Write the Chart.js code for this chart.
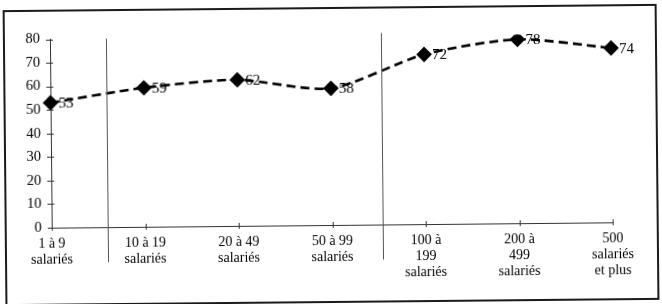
<!DOCTYPE html>
<html>
<head>
<meta charset="utf-8">
<script src="https://cdn.jsdelivr.net/npm/chart.js@4/dist/chart.umd.min.js"></script>
<style>
  html, body { margin: 0; padding: 0; background: #fff; overflow: hidden; }
  #wrap { width: 662px; height: 304px; transform: rotate(-0.55deg); transform-origin: 331px 152px; }
</style>
</head>
<body>
<div id="wrap"><canvas id="chart" width="662" height="304"></canvas></div>
<script>
// Effectifs par tranche de taille d'entreprise
const categories = [
  ['1 à 9', 'salariés'],
  ['10 à 19', 'salariés'],
  ['20 à 49', 'salariés'],
  ['50 à 99', 'salariés'],
  ['100 à', '199', 'salariés'],
  ['200 à', '499', 'salariés'],
  ['500', 'salariés', 'et plus']
];
const values = [53, 59, 62, 58, 72, 78, 74];
const yTicks = [0, 10, 20, 30, 40, 50, 60, 70, 80];

const serif = '"Liberation Serif", "DejaVu Serif", serif';
const ink = '#000';

// Frame, small crossing ticks, the two separator lines and value labels
const decorPlugin = {
  id: 'decor',
  afterDraw(chart) {
    const { ctx, chartArea } = chart;
    const xs = chart.scales.x;
    const ys = chart.scales.y;
    ctx.save();
    ctx.setLineDash([]);
    ctx.globalAlpha = 1;

    // outer frame
    ctx.strokeStyle = '#1a1a1a';
    ctx.lineWidth = 2;
    ctx.strokeRect(5, 8, 652, 294);

    // tick marks crossing the axes
    ctx.strokeStyle = '#333';
    ctx.lineWidth = 1;
    yTicks.forEach(v => {
      const y = Math.round(ys.getPixelForValue(v)) + 0.5;
      ctx.beginPath();
      ctx.moveTo(chartArea.left - 4, y);
      ctx.lineTo(chartArea.left + 3, y);
      ctx.stroke();
    });
    categories.forEach((c, i) => {
      const x = Math.round(xs.getPixelForValue(i)) + 0.5;
      ctx.beginPath();
      ctx.moveTo(x, chartArea.bottom - 3);
      ctx.lineTo(x, chartArea.bottom + 3);
      ctx.stroke();
    });

    // separator lines
    ctx.strokeStyle = '#555';
    const seps = [[0.6, ys.getPixelForValue(80)], [3.54, ys.getPixelForValue(80) - 3]];
    seps.forEach(([idx, top]) => {
      const x = Math.round(xs.getPixelForValue(idx)) + 0.5;
      ctx.beginPath();
      ctx.moveTo(x, top);
      ctx.lineTo(x, chartArea.bottom + 35);
      ctx.stroke();
    });

    // value labels next to each marker
    const meta = chart.getDatasetMeta(0);
    ctx.fillStyle = ink;
    ctx.font = '15px ' + serif;
    ctx.textAlign = 'left';
    ctx.textBaseline = 'middle';
    meta.data.forEach((pt, i) => {
      ctx.fillText(String(values[i]), pt.x + 8, pt.y + 1);
    });
    ctx.restore();
  }
};

new Chart(document.getElementById('chart'), {
  type: 'line',
  data: {
    labels: categories,
    datasets: [{
      data: values,
      borderColor: '#000',
      borderWidth: 2.6,
      borderDash: [9, 5],
      tension: 0.25,
      pointStyle: 'rectRot',
      pointRadius: 6,
      pointBackgroundColor: '#000',
      pointBorderColor: '#000',
      fill: false
    }]
  },
  options: {
    responsive: false,
    animation: false,
    layout: { padding: { left: 0, top: 36.5, right: 50, bottom: 0 } },
    plugins: {
      legend: { display: false },
      tooltip: { enabled: false }
    },
    scales: {
      x: {
        offset: false,
        grid: { display: false, drawTicks: false },
        border: { display: true, color: '#333', width: 1 },
        ticks: {
          color: ink,
          font: { family: serif, size: 14, lineHeight: 1.15 },
          padding: 8,
          maxRotation: 0,
          autoSkip: false
        },
        afterFit: s => { s.height = 79; }
      },
      y: {
        min: 0,
        max: 80,
        grid: { display: false, drawTicks: false },
        border: { display: true, color: '#333', width: 1 },
        ticks: {
          stepSize: 10,
          color: ink,
          font: { family: serif, size: 14.5 },
          padding: 10
        },
        afterFit: s => { s.width = 51; }
      }
    }
  },
  plugins: [decorPlugin]
});
</script>
</body>
</html>
